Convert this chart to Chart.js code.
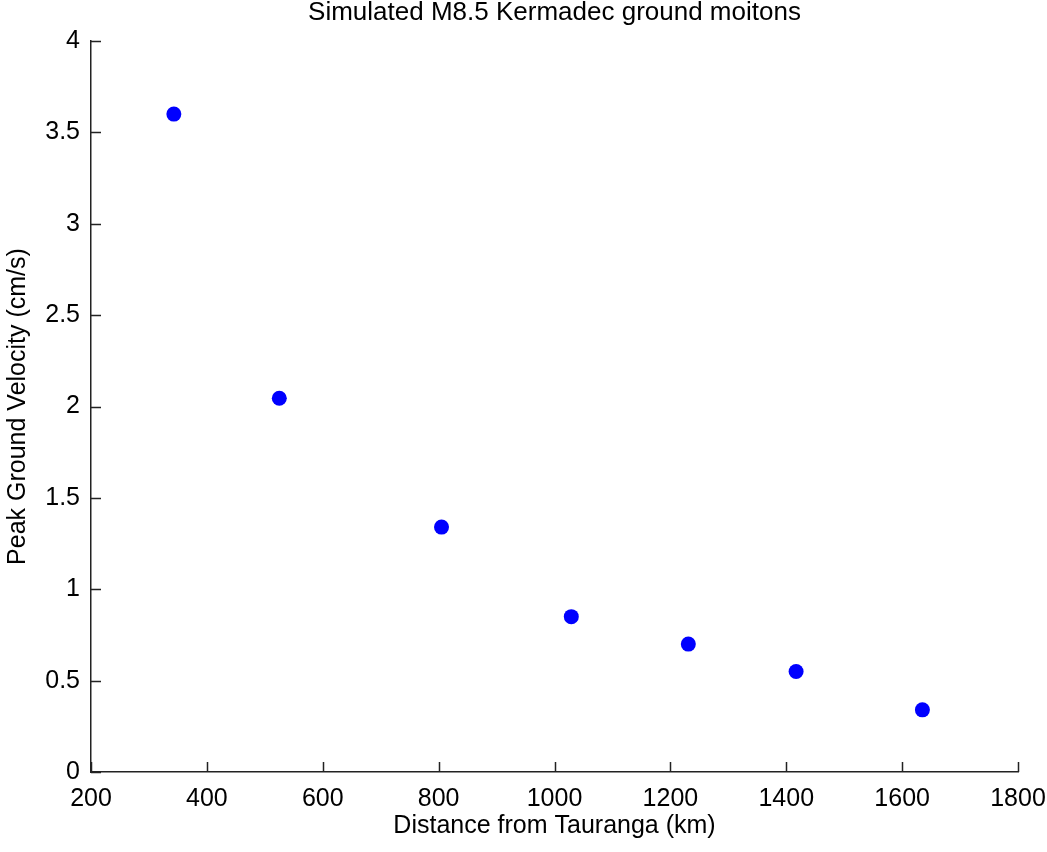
<!DOCTYPE html>
<html>
<head>
<meta charset="utf-8">
<script src="https://cdn.jsdelivr.net/npm/chart.js@4.4.0/dist/chart.umd.min.js"></script>
<style>
  html, body { margin: 0; padding: 0; background: #fff; }
  #myChart { display: block; }
</style>
</head>
<body>
<canvas id="myChart" width="1047" height="852"></canvas>
<script>
// distance (km) and peak ground velocity (cm/s)
const distances = [343, 525, 805, 1029, 1231, 1417, 1635];
const pgv = [3.60, 2.045, 1.34, 0.85, 0.70, 0.55, 0.34];

const xTicks = [200, 400, 600, 800, 1000, 1200, 1400, 1600, 1800];
const yTicks = [0, 0.5, 1, 1.5, 2, 2.5, 3, 3.5, 4];

const titleText = "Simulated M8.5 Kermadec ground moitons";
const fontFamily = "'Liberation Sans', Arial, sans-serif";

const points = distances.map((d, i) => ({ x: d, y: pgv[i] }));

// matlab style ticks pointing into the plot, title centred over the axes
const matlabAxes = {
  id: "matlabAxes",
  afterDraw: (chart) => {
    const ctx = chart.ctx;
    const area = chart.chartArea;
    const xs = chart.scales.x;
    const ys = chart.scales.y;
    ctx.save();
    ctx.strokeStyle = "#222";
    ctx.lineWidth = 1.5;
    ctx.beginPath();
    xTicks.forEach((v) => {
      const px = Math.round(xs.getPixelForValue(v)) + 0.5;
      ctx.moveTo(px, area.bottom);
      ctx.lineTo(px, area.bottom - 10);
    });
    yTicks.forEach((v) => {
      const py = Math.round(ys.getPixelForValue(v)) + 0.5;
      ctx.moveTo(area.left, py);
      ctx.lineTo(area.left + 10, py);
    });
    ctx.stroke();

    ctx.fillStyle = "#000";
    ctx.font = "26px " + fontFamily;
    ctx.textAlign = "center";
    ctx.textBaseline = "middle";
    ctx.fillText(titleText, (area.left + area.right) / 2, 13);
    ctx.restore();
  },
};

const canvas = new Chart(document.getElementById("myChart"), {
  type: "scatter",
  data: {
    datasets: [
      {
        data: points,
        backgroundColor: "#0000ff",
        borderWidth: 0,
        pointRadius: 7.5,
        pointHoverRadius: 7.5,
      },
    ],
  },
  options: {
    responsive: false,
    animation: false,
    layout: { padding: { top: 41, right: 29, bottom: 0, left: 0 } },
    plugins: {
      legend: { display: false },
      tooltip: { enabled: false },
      title: { display: false },
    },
    scales: {
      x: {
        type: "linear",
        min: 200,
        max: 1800,
        afterFit: (scale) => {
          scale.height = 80;
          scale.paddingLeft = 0;
          scale.paddingRight = 0;
        },
        afterBuildTicks: (scale) => {
          scale.ticks = xTicks.map((v) => ({ value: v }));
        },
        grid: { display: false, drawTicks: false },
        border: { display: true, color: "#222", width: 1.5 },
        ticks: {
          color: "#000",
          padding: 12,
          maxRotation: 0,
          font: { family: fontFamily, size: 25 },
          callback: (v) => String(v),
        },
        title: {
          display: true,
          text: "Distance from Tauranga (km)",
          color: "#000",
          font: { family: fontFamily, size: 25 },
          padding: { top: 0, bottom: 11 },
        },
      },
      y: {
        type: "linear",
        min: 0,
        max: 4,
        afterFit: (scale) => {
          scale.width = 91;
          scale.paddingTop = 0;
          scale.paddingBottom = 0;
        },
        afterBuildTicks: (scale) => {
          scale.ticks = yTicks.map((v) => ({ value: v }));
        },
        grid: { display: false, drawTicks: false },
        border: { display: true, color: "#222", width: 1.5 },
        ticks: {
          color: "#000",
          padding: 11,
          font: { family: fontFamily, size: 25 },
          callback: (v) => String(v),
        },
        title: {
          display: true,
          text: "Peak Ground Velocity (cm/s)",
          color: "#000",
          font: { family: fontFamily, size: 25 },
          padding: { top: 3, bottom: 0 },
        },
      },
    },
  },
  plugins: [matlabAxes],
});
</script>
</body>
</html>
